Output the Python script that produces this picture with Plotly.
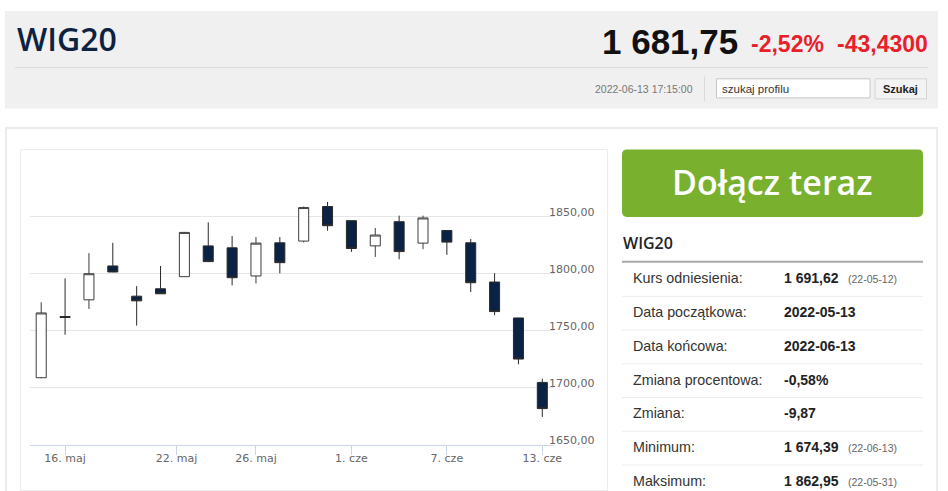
import numpy as np
import pandas as pd
import plotly.graph_objects as go

W, H = 948, 491          # układ (px)
FIG_W, FIG_H = 956, 495  # realny rozmiar figury (zdjęcie strony jest skalowane do szer. 948)

dates = ["2022-05-13", "2022-05-16", "2022-05-17", "2022-05-18", "2022-05-19", "2022-05-20",
         "2022-05-23", "2022-05-24", "2022-05-25", "2022-05-26", "2022-05-27", "2022-05-30",
         "2022-05-31", "2022-06-01", "2022-06-02", "2022-06-03", "2022-06-06", "2022-06-07",
         "2022-06-08", "2022-06-09", "2022-06-10", "2022-06-13"]
open_ = [1708.8, 1762.5, 1777.1, 1806.8, 1780.3, 1786.8, 1797.4, 1824.4, 1822.7, 1798.0, 1827.1,
         1828.6, 1858.9, 1846.5, 1824.4, 1845.6, 1826.8, 1837.9, 1827.1, 1792.7, 1761.2, 1704.7]
high = [1775.0, 1795.9, 1818.0, 1827.1, 1789.1, 1806.8, 1836.6, 1845.0, 1833.0, 1832.1, 1832.1,
        1858.9, 1862.95, 1846.6, 1840.1, 1850.9, 1850.9, 1838.2, 1830.4, 1800.4, 1761.4, 1708.0]
low = [1708.5, 1746.5, 1769.1, 1801.3, 1754.5, 1782.2, 1797.1, 1810.4, 1789.8, 1791.5, 1800.3,
       1827.4, 1837.7, 1819.1, 1814.7, 1812.7, 1821.5, 1816.5, 1783.9, 1763.6, 1720.6, 1674.39]
close = [1765.6, 1761.6, 1800.0, 1801.5, 1776.2, 1782.4, 1836.2, 1810.6, 1796.5, 1826.8, 1809.7,
         1858.0, 1842.1, 1822.1, 1833.9, 1819.4, 1848.9, 1827.7, 1792.1, 1766.8, 1725.18, 1681.75]

tick_dates = ["2022-05-16", "2022-05-22", "2022-05-26", "2022-06-01", "2022-06-07", "2022-06-13"]
tick_labels = ["16. maj", "22. maj", "26. maj", "1. cze", "7. cze", "13. cze"]
y_ticks = [1650, 1700, 1750, 1800, 1850, 1900]

#### nagłówek
title = "WIG20"
last_price = "1 681,75"
change_pct = "-2,52%"
change_abs = "-43,4300"
timestamp = "2022-06-13 17:15:00"

#### tabela po prawej
stat_labels = ["Kurs odniesienia:", "Data początkowa:", "Data końcowa:", "Zmiana procentowa:",
               "Zmiana:", "Minimum:", "Maksimum:"]
stat_values = ["1 691,62", "2022-05-13", "2022-06-13", "-0,58%", "-9,87", "1 674,39", "1 862,95"]
stat_dates = ["(22-05-12)", "", "", "", "", "(22-06-13)", "(22-05-31)"]

### os ordinalna: pozycja = numer sesji, ticki interpolowane po datach (jak w highcharts)
d = pd.to_datetime(dates)
pos = np.arange(len(d))
tick_pos = np.interp(pd.to_datetime(tick_dates).map(pd.Timestamp.toordinal),
                     d.map(pd.Timestamp.toordinal), pos)
y_text = [("%.2f" % v).replace(".", ",") if v < max(y_ticks) else "" for v in y_ticks]


def px(x):
    return x / W


def py(y):
    return 1 - y / H


fig = go.Figure(go.Candlestick(
    x=pos, open=open_, high=high, low=low, close=close,
    increasing=dict(fillcolor="white", line=dict(color="#3c3c3c", width=1)),
    decreasing=dict(fillcolor="#0b2244", line=dict(color="#2a2a2a", width=1)),
    whiskerwidth=0, hoverinfo="skip"))

shapes = []
annots = []


def rect(x0, y0, x1, y1, fill=None, line=None, lw=1):
    shapes.append(dict(type="rect", xref="paper", yref="paper", x0=px(x0), x1=px(x1),
                       y0=py(y1), y1=py(y0), fillcolor=fill or "rgba(0,0,0,0)",
                       line=dict(color=line or "rgba(0,0,0,0)", width=lw if line else 0)))


def hline(x0, x1, y, color, lw=1):
    shapes.append(dict(type="line", xref="paper", yref="paper", x0=px(x0), x1=px(x1),
                       y0=py(y), y1=py(y), line=dict(color=color, width=lw)))


def text(x, y, s, size, color, family="Liberation Sans", xanchor="left", weight="normal"):
    annots.append(dict(x=px(x), y=py(y), xref="paper", yref="paper", text=s, showarrow=False,
                       xanchor=xanchor, yanchor="middle",
                       font=dict(size=size, color=color, family=family, weight=weight)))


### nagłówek
rect(5, 11, 938, 108, fill="#f0f0f0")
hline(15, 928, 67.3, "#dadada")
shapes.append(dict(type="line", xref="paper", yref="paper", x0=px(704.5), x1=px(704.5),
                   y0=py(101), y1=py(76), line=dict(color="#dadada", width=1)))
rect(716.5, 78.5, 870, 97.5, fill="white", line="#c6c6c6")
rect(875, 78.5, 926.5, 98.5, fill="#f3f3f3", line="#d4d4d4")
text(15, 38, title, 32, "#0d2240", family="Open Sans", weight=600)
text(600, 41, last_price, 35, "#111111", weight="bold")
text(749, 43.5, change_pct, 23, "#e8202a", weight="bold")
text(835, 43.5, change_abs, 23, "#e8202a", weight="bold")
text(694.5, 89, timestamp, 10.5, "#777777", xanchor="right")
text(720, 88.5, "szukaj profilu", 11.5, "#333333")
text(900.5, 89, "Szukaj", 11, "#222222", xanchor="center", weight="bold")

### panele
rect(6, 127.5, 937, 500, line="#ebebeb", lw=2)
rect(20.5, 149, 607.5, 488.5, line="#ececec")

### zielony przycisk (zaokrąglone rogi)
x0, x1, y0, y1, r = 622, 923, 149, 216, 5
pts = (f"M {px(x0 + r)},{py(y0)} L {px(x1 - r)},{py(y0)} Q {px(x1)},{py(y0)} {px(x1)},{py(y0 + r)} "
       f"L {px(x1)},{py(y1 - r)} Q {px(x1)},{py(y1)} {px(x1 - r)},{py(y1)} "
       f"L {px(x0 + r)},{py(y1)} Q {px(x0)},{py(y1)} {px(x0)},{py(y1 - r)} "
       f"L {px(x0)},{py(y0 + r)} Q {px(x0)},{py(y0)} {px(x0 + r)},{py(y0)} Z")
shapes.append(dict(type="path", xref="paper", yref="paper", path=pts,
                   fillcolor="#79b12f", line=dict(width=0)))
text(772.5, 181, "Dołącz teraz", 34, "white", family="Open Sans", xanchor="center", weight=600)

### tabela
text(621, 242.5, title, 16, "#222222", family="Open Sans", weight=600)
hline(622, 923, 260.7, "#a8a8a8", 2)
row0, row_h = 277.3, 33.6
for i, (lab, val, dt) in enumerate(zip(stat_labels, stat_values, stat_dates)):
    yc = row0 + i * row_h
    text(631, yc, lab, 14.3, "#333333")
    text(782, yc, val, 14, "#222222", weight="bold")
    if dt:
        text(846, yc + 1, dt, 10.5, "#666666")
    if i < len(stat_labels) - 1:
        hline(622, 923, yc + row_h / 2 + 1, "#ececec")

fig.update_layout(
    width=FIG_W, height=FIG_H, margin=dict(l=0, r=0, t=0, b=0),
    paper_bgcolor="white", plot_bgcolor="white", showlegend=False,
    separators=", ", boxgap=0.4, shapes=shapes, annotations=annots,
    xaxis=dict(domain=[px(30), px(554)], range=[-0.47, 21.49], tickvals=tick_pos,
               ticktext=tick_labels, ticks="outside", ticklen=9, tickcolor="#ccd6eb",
               showline=True, linecolor="#ccd6eb", showgrid=False, zeroline=False,
               rangeslider=dict(visible=False), ticklabelstandoff=-6,
               tickfont=dict(family="DejaVu Sans", size=11, color="#666666")),
    yaxis=dict(domain=[py(443), py(159)], range=[1650, 1900], side="right",
               tickvals=y_ticks, ticktext=y_text, showgrid=True, gridcolor="#e6e6e6",
               zeroline=False, ticks="", ticklabelshift=-5, ticklabelstandoff=-6,
               tickfont=dict(family="DejaVu Sans", size=11, color="#666666")),
)

# bez marginesu strony i bez paska narzędzi
fig.write_html("out.html", config={"displayModeBar": False},
               post_script="document.body.style.margin='0';")
